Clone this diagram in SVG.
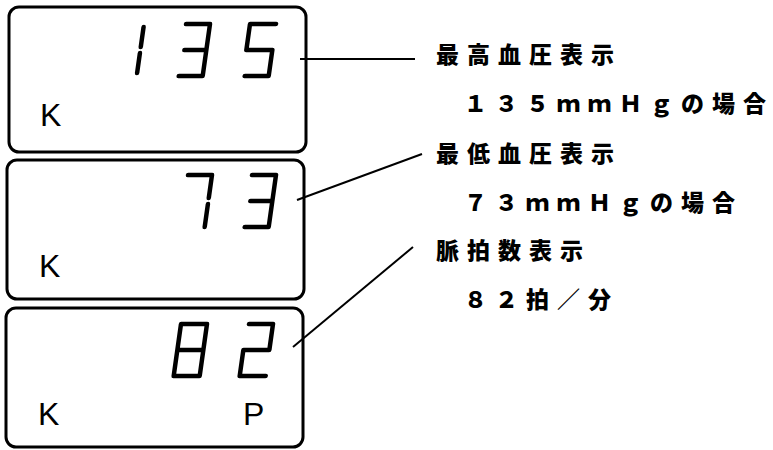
<svg xmlns="http://www.w3.org/2000/svg" width="773" height="450" viewBox="0 0 773 450">
<defs>
<style>
.box{fill:none;stroke:#000;stroke-width:3}
.conn{fill:none;stroke:#000;stroke-width:2}
.seg{fill:none;stroke:#000;stroke-width:4.5;stroke-linecap:round;stroke-linejoin:round}
.lbl{font-family:"Liberation Sans",Arial,sans-serif;font-size:32px;fill:#000}
.jp{font-family:"Noto Sans CJK JP","Noto Sans CJK SC",sans-serif;font-size:23px;font-weight:900;fill:#000}
.sp{letter-spacing:8px}
</style>
<path id="sb" d="M26,3 V23"/>
<path id="sc" d="M26,29 V49"/>
</defs>
<rect width="773" height="450" fill="#fff"/>

<g id="display-systolic">
<rect class="box" x="9" y="7" width="297" height="145" rx="10"/>
<g class="seg" transform="translate(118,24) skewX(-8)"><use href="#sb"/><use href="#sc"/></g>
<g class="seg" transform="translate(184,24) skewX(-8)"><path d="M2,0 H26 V52 H2 M4,26 H26"/></g>
<g class="seg" transform="translate(250,24) skewX(-8)"><path d="M26,0 H0 V26 H26 V52 H2"/></g>
<text class="lbl" x="40" y="126">K</text>
</g>

<g id="display-diastolic">
<rect class="box" x="7" y="160" width="297" height="139" rx="10"/>
<g class="seg" transform="translate(186,175) skewX(-8)"><path d="M2,0 H26 V23 M26,29 V52"/></g>
<g class="seg" transform="translate(250,175) skewX(-8)"><path d="M2,0 H26 V52 H2 M4,26 H26"/></g>
<text class="lbl" x="39" y="277">K</text>
</g>

<g id="display-pulse">
<rect class="box" x="6" y="308" width="297" height="139" rx="10"/>
<g class="seg" transform="translate(181,324) skewX(-8)"><path d="M0,0 H26 V52 H0 Z M0,26 H26"/></g>
<g class="seg" transform="translate(247,324) skewX(-8)"><path d="M2,0 H26 V26 H0 V52 H26"/></g>
<text class="lbl" x="38" y="425">K</text>
<text class="lbl" x="243" y="425">P</text>
</g>

<g id="connectors">
<line class="conn" x1="300" y1="59" x2="415" y2="59"/>
<line class="conn" x1="297" y1="200" x2="422" y2="154"/>
<line class="conn" x1="293" y1="347" x2="413" y2="247"/>
</g>

<g id="label-systolic">
<text class="jp" x="436" y="63"><tspan class="sp">最高血圧表</tspan>示</text>
<text class="jp" x="464" y="112"><tspan class="sp">１３５ｍｍＨｇの場</tspan>合</text>
</g>
<g id="label-diastolic">
<text class="jp" x="436" y="162"><tspan class="sp">最低血圧表</tspan>示</text>
<text class="jp" x="464" y="211"><tspan class="sp">７３ｍｍＨｇの場</tspan>合</text>
</g>
<g id="label-pulse">
<text class="jp" x="436" y="259"><tspan class="sp">脈拍数表</tspan>示</text>
<text class="jp" x="464" y="308"><tspan class="sp">８２拍／</tspan>分</text>
</g>
</svg>
